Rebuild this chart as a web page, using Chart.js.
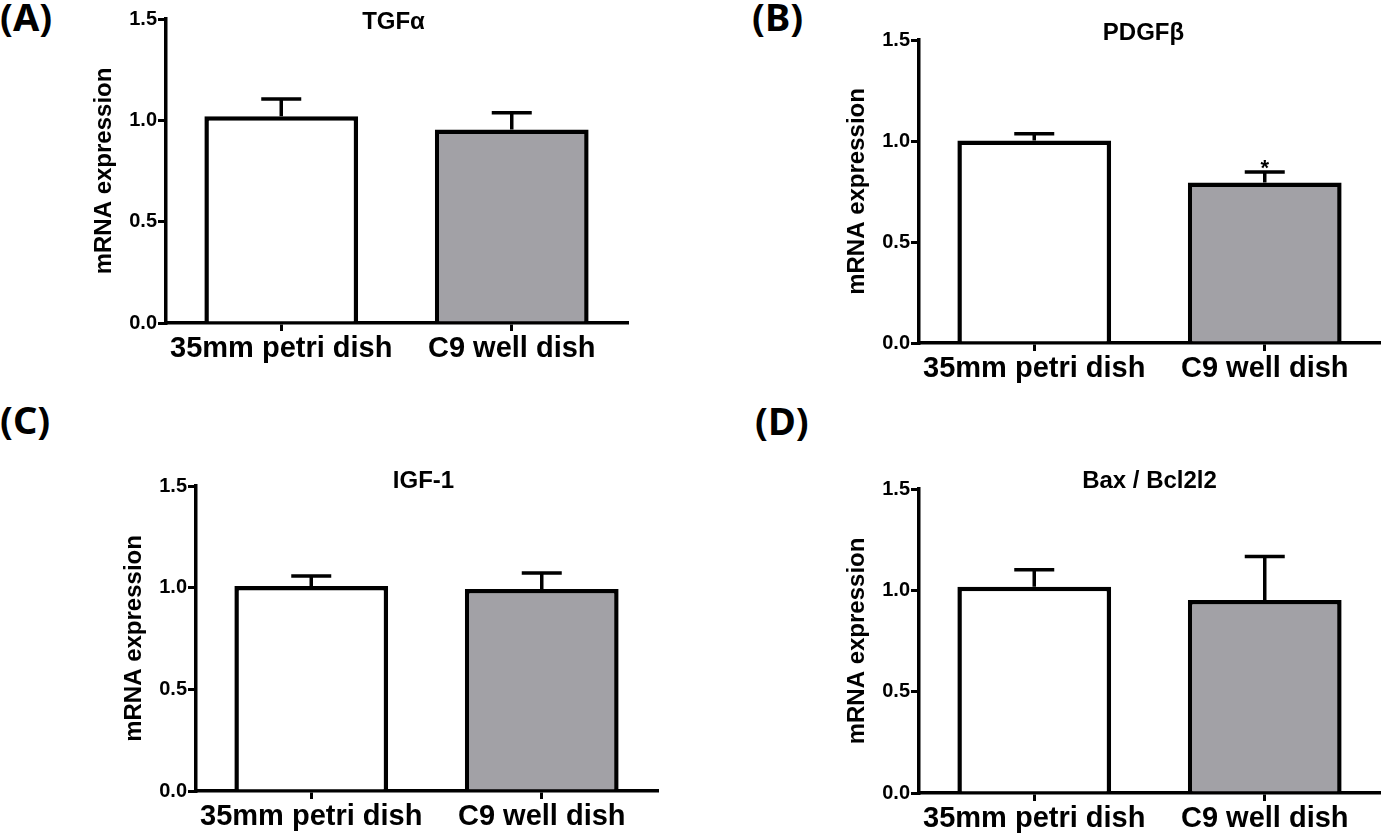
<!DOCTYPE html>
<html>
<head>
<meta charset="utf-8">
<script src="https://cdn.jsdelivr.net/npm/chart.js@4.4.1/dist/chart.umd.min.js"></script>
<style>
html,body{margin:0;padding:0;background:#fff;width:1381px;height:835px;overflow:hidden;}
canvas{position:absolute;left:0;top:0;}
.lbl{position:absolute;font-family:'Noto Sans',sans-serif;font-weight:700;font-size:38px;line-height:1;color:#000;white-space:nowrap;}
</style>
</head>
<body>
<div class="lbl" style="left:0px;top:-3px">(A)</div>
<div class="lbl" style="left:752px;top:-3px">(B)</div>
<div class="lbl" style="left:0px;top:400px">(C)</div>
<div class="lbl" style="left:755px;top:401px">(D)</div>
<canvas id="cA" width="1381" height="835"></canvas>
<canvas id="cB" width="1381" height="835"></canvas>
<canvas id="cC" width="1381" height="835"></canvas>
<canvas id="cD" width="1381" height="835"></canvas>
<script>
// ---- data ----
const categories = ['35mm petri dish', 'C9 well dish'];
const yTickValues = [0, 0.5, 1.0, 1.5];
const yAxisTitle = 'mRNA expression';
const panelTitles = ['TGFα', 'PDGFβ', 'IGF-1', 'Bax / Bcl2l2'];

const tgfaMean  = [1.02, 0.955];
const tgfaSem   = [0.085, 0.083];
const pdgfbMean = [1.003, 0.794];
const pdgfbSem  = [0.033, 0.052];
const igf1Mean  = [1.008, 0.994];
const igf1Sem   = [0.049, 0.078];
const baxMean   = [1.018, 0.952];
const baxSem    = [0.083, 0.215];

const pdgfbMarks = ['', '*'];
const noMarks = ['', ''];

// ---- styles ----
const barColors = ['#ffffff', '#a2a1a6'];
const FONT = "'Liberation Sans', Arial, sans-serif";
Chart.defaults.font.family = FONT;
Chart.defaults.color = '#000';

const errorBarPlugin = {
  id: 'errorBars',
  afterDatasetsDraw(chart, args, opts) {
    const meta = chart.getDatasetMeta(0);
    const ys = chart.scales.y;
    const ds = chart.data.datasets[0];
    const ctx = chart.ctx;
    ctx.save();
    ctx.strokeStyle = '#000';
    ctx.lineWidth = 3.5;
    ctx.lineCap = 'butt';
    meta.data.forEach((bar, i) => {
      const v = ds.data[i];
      const e = opts.errors[i];
      const yBar = ys.getPixelForValue(v);
      const yTop = ys.getPixelForValue(v + e);
      ctx.beginPath();
      ctx.moveTo(bar.x, yBar);
      ctx.lineTo(bar.x, yTop);
      ctx.moveTo(bar.x - opts.capHalf, yTop);
      ctx.lineTo(bar.x + opts.capHalf, yTop);
      ctx.stroke();
      if (opts.marks && opts.marks[i]) {
        ctx.fillStyle = '#000';
        ctx.font = 'bold 22px ' + FONT;
        ctx.textAlign = 'center';
        ctx.textBaseline = 'alphabetic';
        ctx.fillText(opts.marks[i], bar.x, yTop + 3);
      }
    });
    ctx.restore();
  }
};

const panelTitlePlugin = {
  id: 'panelTitle',
  afterDraw(chart, args, opts) {
    const ctx = chart.ctx;
    const ca = chart.chartArea;
    ctx.save();
    ctx.fillStyle = '#000';
    ctx.font = 'bold 24px ' + FONT;
    ctx.textAlign = 'center';
    ctx.textBaseline = 'alphabetic';
    ctx.fillText(opts.text, (ca.left + ca.right) / 2 + opts.dx, opts.y);
    ctx.restore();
  }
};

function makeChart(id, mean, sem, marks, title, box) {
  const W = 80, H = 70;
  return new Chart(document.getElementById(id), {
    type: 'bar',
    data: {
      labels: categories,
      datasets: [{
        data: mean,
        backgroundColor: barColors,
        borderColor: '#000',
        borderWidth: 4.5,
        borderSkipped: 'bottom',
        categoryPercentage: 1,
        barPercentage: 0.667
      }]
    },
    options: {
      responsive: false,
      animation: false,
      devicePixelRatio: 1,
      layout: { padding: { left: box.left - W, right: 1381 - box.right, top: box.top, bottom: 835 - box.bottom - H } },
      plugins: {
        legend: { display: false },
        tooltip: { enabled: false },
        errorBars: { errors: sem, marks: marks, capHalf: 20 },
        panelTitle: { text: title, y: box.titleY, dx: box.titleDx }
      },
      scales: {
        x: {
          afterFit(s) { s.height = H; },
          grid: { display: true, drawOnChartArea: false, drawTicks: true, tickLength: 8, lineWidth: 3, color: '#000', offset: false },
          border: { display: true, color: '#000', width: 3.5 },
          ticks: { font: { size: 29, weight: 'bold' }, color: '#000', padding: 1, maxRotation: 0, autoSkip: false }
        },
        y: {
          min: 0, max: 1.5,
          afterFit(s) { s.width = W; },
          afterBuildTicks(s) { s.ticks = yTickValues.map(v => ({ value: v })); },
          ticks: { callback: v => Number(v).toFixed(1), font: { size: 20, weight: 'bold' }, color: '#000', padding: 1 },
          grid: { display: true, drawOnChartArea: false, drawTicks: true, tickLength: 8, lineWidth: 3, color: '#000' },
          border: { display: true, color: '#000', width: 3.5 },
          title: { display: true, text: yAxisTitle, font: { size: 24, weight: 'bold' }, color: '#000', padding: { top: 4, bottom: 0 } }
        }
      }
    },
    plugins: [errorBarPlugin, panelTitlePlugin]
  });
}

makeChart('cA', tgfaMean, tgfaSem, noMarks, panelTitles[0], { left: 166, right: 627, top: 19, bottom: 323, titleY: 29, titleDx: -3 });
makeChart('cB', pdgfbMean, pdgfbSem, pdgfbMarks, panelTitles[1], { left: 919, right: 1380, top: 40, bottom: 343, titleY: 40, titleDx: -6 });
makeChart('cC', igf1Mean, igf1Sem, noMarks, panelTitles[2], { left: 196, right: 657, top: 486, bottom: 791, titleY: 488, titleDx: -3 });
makeChart('cD', baxMean, baxSem, noMarks, panelTitles[3], { left: 919, right: 1380, top: 489, bottom: 793, titleY: 488, titleDx: 0 });
</script>
</body>
</html>
